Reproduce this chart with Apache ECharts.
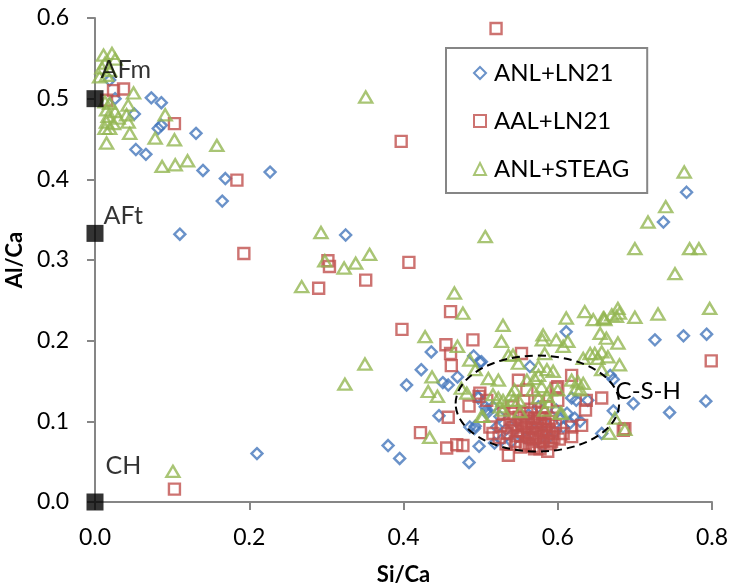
<!DOCTYPE html>
<html><head><meta charset="utf-8">
<script src="https://cdn.jsdelivr.net/npm/echarts@6/dist/echarts.min.js"></script>
<style>html,body{margin:0;padding:0;background:#fff}#c{width:731px;height:586px}</style>
</head><body><div id="c"></div>
<script>
const seriesNames = ['ANL+LN21', 'AAL+LN21', 'ANL+STEAG'];
const xTicks = [0, 0.2, 0.4, 0.6, 0.8];
const yTicks = [0, 0.1, 0.2, 0.3, 0.4, 0.5, 0.6];

const anlLN21 = [
[0.019,0.523],[0.026,0.500],[0.073,0.501],[0.086,0.495],[0.051,0.481],[0.082,0.463],[0.086,0.467],[0.131,0.457],
[0.053,0.437],[0.066,0.431],[0.140,0.411],[0.169,0.401],[0.227,0.409],[0.165,0.373],[0.110,0.332],[0.210,0.060],
[0.325,0.331],[0.404,0.145],[0.436,0.186],[0.423,0.164],[0.451,0.148],[0.458,0.145],[0.470,0.155],[0.446,0.107],
[0.491,0.181],[0.499,0.173],[0.486,0.093],[0.493,0.094],[0.496,0.131],[0.498,0.069],[0.485,0.049],[0.395,0.054],
[0.380,0.070],[0.501,0.174],[0.564,0.168],[0.611,0.211],[0.618,0.129],[0.624,0.126],[0.607,0.093],[0.616,0.098],
[0.622,0.104],[0.629,0.100],[0.657,0.085],[0.668,0.157],[0.672,0.152],[0.639,0.126],[0.698,0.122],[0.737,0.347],
[0.726,0.201],[0.763,0.206],[0.793,0.208],[0.745,0.111],[0.792,0.125],[0.672,0.113],[0.767,0.384],[0.516,0.118],
[0.508,0.110],[0.525,0.106],[0.521,0.093],[0.527,0.077],[0.518,0.073],[0.540,0.075],[0.562,0.108],[0.575,0.118],
[0.583,0.098],[0.598,0.114],[0.603,0.102],[0.596,0.087],[0.551,0.083],[0.497,0.129],[0.506,0.118],[0.508,0.114],
[0.492,0.091],[0.533,0.090],[0.546,0.100],[0.558,0.080],[0.570,0.090],[0.588,0.080],[0.580,0.070],[0.612,0.110]
];
const aalLN21 = [
[0.520,0.587],[0.397,0.447],[0.037,0.512],[0.024,0.510],[0.015,0.498],[0.103,0.469],[0.184,0.399],[0.193,0.308],
[0.103,0.016],[0.290,0.265],[0.302,0.299],[0.304,0.292],[0.351,0.275],[0.407,0.297],[0.398,0.214],[0.461,0.236],
[0.490,0.201],[0.455,0.195],[0.461,0.184],[0.462,0.169],[0.458,0.105],[0.422,0.086],[0.456,0.067],[0.469,0.071],
[0.477,0.070],[0.498,0.131],[0.485,0.119],[0.553,0.184],[0.618,0.157],[0.637,0.126],[0.657,0.129],[0.636,0.114],
[0.631,0.095],[0.618,0.093],[0.607,0.085],[0.618,0.081],[0.536,0.058],[0.549,0.151],[0.560,0.139],[0.598,0.141],
[0.568,0.069],[0.592,0.075],[0.512,0.093],[0.516,0.085],[0.499,0.135],[0.508,0.126],[0.687,0.091],[0.600,0.143],
[0.600,0.126],[0.799,0.175],[0.685,0.089],
[0.530,0.110],[0.538,0.102],[0.545,0.095],[0.550,0.105],[0.555,0.088],[0.560,0.097],[0.563,0.080],[0.567,0.092],
[0.570,0.104],[0.572,0.085],[0.575,0.075],[0.578,0.095],[0.580,0.110],[0.582,0.082],[0.585,0.090],[0.588,0.100],
[0.590,0.072],[0.593,0.085],[0.545,0.075],[0.552,0.068],[0.558,0.072],[0.535,0.085],[0.528,0.095],[0.540,0.118],
[0.565,0.115],[0.575,0.125],[0.585,0.118],[0.556,0.125],[0.548,0.088],[0.562,0.104],[0.573,0.098],[0.577,0.066],
[0.583,0.103],[0.597,0.095],[0.602,0.078],[0.524,0.080],[0.533,0.072],[0.542,0.110],[0.568,0.078],[0.587,0.063],
[0.552,0.082],[0.557,0.093],[0.561,0.086],[0.566,0.100],[0.571,0.080],[0.574,0.091],[0.579,0.086],[0.584,0.096],
[0.589,0.088],[0.563,0.070],[0.570,0.066],[0.581,0.075],[0.595,0.080],[0.547,0.082],[0.540,0.092],[0.553,0.098],
[0.576,0.104],[0.586,0.080],[0.560,0.110],[0.592,0.104]
];
const anlSTEAG = [
[0.011,0.554],[0.022,0.556],[0.013,0.544],[0.009,0.538],[0.019,0.535],[0.015,0.529],[0.006,0.527],[0.026,0.549],
[0.013,0.496],[0.019,0.494],[0.015,0.486],[0.026,0.484],[0.017,0.478],[0.030,0.476],[0.015,0.471],[0.024,0.469],
[0.013,0.463],[0.019,0.463],[0.050,0.507],[0.043,0.492],[0.041,0.480],[0.043,0.471],[0.045,0.457],[0.015,0.445],
[0.091,0.480],[0.078,0.451],[0.103,0.449],[0.087,0.416],[0.104,0.418],[0.120,0.423],[0.158,0.442],[0.293,0.334],
[0.356,0.307],[0.338,0.296],[0.323,0.290],[0.298,0.299],[0.268,0.267],[0.350,0.171],[0.324,0.146],[0.351,0.502],
[0.506,0.329],[0.764,0.409],[0.740,0.366],[0.717,0.347],[0.700,0.314],[0.771,0.314],[0.783,0.314],[0.752,0.283],
[0.797,0.240],[0.730,0.233],[0.700,0.229],[0.678,0.240],[0.680,0.234],[0.670,0.232],[0.660,0.228],[0.663,0.203],
[0.678,0.197],[0.657,0.186],[0.680,0.170],[0.657,0.164],[0.674,0.104],[0.687,0.090],[0.667,0.085],[0.529,0.219],
[0.527,0.199],[0.536,0.182],[0.542,0.182],[0.581,0.207],[0.580,0.201],[0.611,0.228],[0.635,0.236],[0.646,0.226],
[0.659,0.228],[0.598,0.201],[0.613,0.199],[0.607,0.193],[0.655,0.209],[0.583,0.184],[0.633,0.178],[0.642,0.184],
[0.648,0.184],[0.652,0.178],[0.549,0.172],[0.575,0.168],[0.586,0.164],[0.594,0.162],[0.510,0.153],[0.523,0.151],
[0.560,0.151],[0.570,0.153],[0.575,0.157],[0.618,0.151],[0.626,0.149],[0.633,0.147],[0.624,0.141],[0.629,0.139],
[0.544,0.139],[0.540,0.133],[0.568,0.139],[0.579,0.143],[0.590,0.139],[0.600,0.139],[0.516,0.133],[0.523,0.129],
[0.529,0.126],[0.542,0.126],[0.549,0.126],[0.575,0.129],[0.586,0.131],[0.590,0.124],[0.503,0.106],[0.525,0.118],
[0.529,0.114],[0.551,0.112],[0.583,0.114],[0.603,0.110],[0.466,0.259],[0.477,0.234],[0.428,0.205],[0.470,0.193],
[0.437,0.155],[0.432,0.137],[0.444,0.131],[0.475,0.141],[0.482,0.135],[0.486,0.176],[0.493,0.164],[0.501,0.106],
[0.434,0.080],[0.101,0.038],[0.605,0.110],[0.665,0.180],[0.676,0.230],[0.661,0.226]
];
const refNames = ['AFm', 'AFt', 'CH'];
const refPoints = [[0, 0.5], [0, 0.333], [0, 0]];
const cshCenter = [0.5736, 0.122];
const cshRadius = [0.106, 0.0595];

const FONT = 'Lato';
const chart = echarts.init(document.getElementById('c'), null, {renderer: 'canvas'});
const hollow = (c) => ({color: 'rgba(255,255,255,0)', borderColor: c, borderWidth: 2.4});
const labelOffsets = [[-8, -29], [-5, -17], [-3, -36]];

chart.setOption({
  animation: false,
  grid: {left: 95, right: 19, top: 18, bottom: 84, containLabel: false, outerBoundsMode: 'none'},
  xAxis: {
    type: 'value', min: 0, max: 0.8, interval: 0.2,
    name: 'Si/Ca', nameLocation: 'middle', nameGap: 62,
    nameTextStyle: {fontFamily: FONT, fontWeight: 'bold', fontSize: 22, color: '#000'},
    axisLine: {show: true, lineStyle: {color: '#868686', width: 2}},
    axisTick: {show: true, length: 8, lineStyle: {color: '#868686', width: 2}},
    splitLine: {show: false},
    axisLabel: {fontFamily: FONT, fontSize: 23, color: '#000', margin: 24,
      formatter: v => v.toFixed(1)}
  },
  yAxis: {
    type: 'value', min: 0, max: 0.6, interval: 0.1,
    name: 'Al/Ca', nameLocation: 'middle', nameGap: 57, nameRotate: 90,
    nameTextStyle: {fontFamily: FONT, fontWeight: 'bold', fontSize: 22, color: '#000'},
    axisLine: {show: true, lineStyle: {color: '#868686', width: 2}},
    axisTick: {show: true, length: 8, lineStyle: {color: '#868686', width: 2}},
    splitLine: {show: false},
    axisLabel: {fontFamily: FONT, fontSize: 23, color: '#000', margin: 26,
      formatter: v => v.toFixed(1)}
  },
  legend: {
    orient: 'vertical', left: 446, top: 48,
    data: seriesNames,
    backgroundColor: '#fff', borderColor: '#868686', borderWidth: 2,
    padding: [12, 18, 11, 27],
    itemWidth: 12, itemHeight: 12, itemGap: 22,
    textStyle: {fontFamily: FONT, fontSize: 24, color: '#000', lineHeight: 26, padding: [0, 0, 0, 3]}
  },
  series: [
    {name: seriesNames[0], type: 'scatter', symbol: 'diamond', symbolSize: [11, 11],
      itemStyle: hollow('#4577bb'), data: anlLN21, z: 2},
    {name: seriesNames[1], type: 'scatter', symbol: 'rect', symbolSize: 11,
      itemStyle: hollow('#c0504d'), data: aalLN21, z: 3},
    {name: seriesNames[2], type: 'scatter', symbol: 'triangle', symbolSize: [13, 11],
      itemStyle: hollow('#94b752'), data: anlSTEAG, z: 4},
    {name: 'ref', type: 'scatter', symbol: 'rect', symbolSize: 17, clip: false, z: 5,
      itemStyle: {color: '#000'},
      data: refPoints.map((p, i) => ({value: p, name: refNames[i],
        label: {show: true, position: 'right', offset: labelOffsets[i], formatter: '{b}',
          fontFamily: FONT, fontSize: 25, color: '#000'}}))}
  ]
});

const c = chart.convertToPixel({gridIndex: 0}, cshCenter);
const e = chart.convertToPixel({gridIndex: 0}, [cshCenter[0] + cshRadius[0], cshCenter[1] + cshRadius[1]]);
const lbl = chart.convertToPixel({gridIndex: 0}, [0.675, 0.135]);
chart.setOption({
  graphic: [
    {type: 'ellipse', shape: {cx: c[0], cy: c[1], rx: e[0] - c[0], ry: c[1] - e[1]},
      style: {fill: null, stroke: '#000', lineWidth: 2, lineDash: [8, 5]}, z: 10, silent: true},
    {type: 'text', left: lbl[0], top: lbl[1] - 14,
      style: {text: 'C-S-H', fontFamily: FONT, fontSize: 24, fill: '#000'}, z: 10, silent: true}
  ]
});
</script>
</body></html>
